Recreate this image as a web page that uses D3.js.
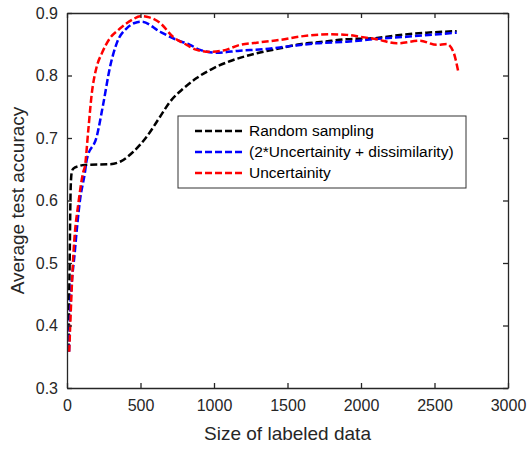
<!DOCTYPE html>
<html>
<head>
<meta charset="utf-8">
<script src="https://cdn.jsdelivr.net/npm/d3@7"></script>
<style>
  body { margin: 0; background: #fff; }
  svg { font-family: "Liberation Sans", Arial, sans-serif; }
  .axis path, .axis line { stroke: #262626; stroke-width: 1.3; }
  .axis text { fill: #262626; font-size: 16px; }
</style>
</head>
<body>
<svg class="chart"></svg>
<script>
// series: [size of labeled data, average test accuracy]
var randomSampling = [[10,0.36],[18,0.50],[25,0.62],[32,0.645],[43,0.651],[80,0.655],[122,0.657],[293,0.658],[361,0.662],[451,0.678],[542,0.702],[633,0.734],[701,0.758],[791,0.779],[882,0.796],[995,0.8115],[1131,0.8248],[1290,0.8355],[1449,0.8435],[1585,0.850],[1744,0.854],[1903,0.858],[2084,0.8595],[2265,0.8648],[2447,0.8685],[2651,0.871]];
var uncDissim = [[14,0.358],[20,0.414],[54,0.52],[88,0.60],[122,0.645],[134,0.665],[202,0.702],[247,0.755],[293,0.814],[338,0.8515],[406,0.8755],[460,0.884],[508,0.886],[633,0.870],[746,0.857],[837,0.849],[905,0.841],[1018,0.8365],[1177,0.8397],[1336,0.842],[1517,0.847],[1698,0.8515],[1903,0.854],[2084,0.858],[2311,0.862],[2651,0.8685]];
var uncertainty = [[15,0.358],[45,0.52],[80,0.60],[110,0.645],[122,0.655],[145,0.713],[168,0.77],[202,0.814],[236,0.835],[293,0.86],[350,0.873],[406,0.8835],[450,0.89],[497,0.895],[560,0.893],[633,0.884],[721,0.862],[814,0.849],[882,0.841],[973,0.838],[1063,0.840],[1177,0.849],[1290,0.8525],[1449,0.857],[1607,0.863],[1789,0.866],[1903,0.865],[1993,0.862],[2107,0.858],[2243,0.8515],[2401,0.8557],[2515,0.849],[2583,0.8504],[2628,0.838],[2662,0.806]];

var seriesNames = ['Random sampling', '(2*Uncertainity + dissimilarity)', 'Uncertainity'];
var seriesColors = ['#000000', '#0000ff', '#ff0000'];
var xTicks = [0, 500, 1000, 1500, 2000, 2500, 3000];
var yTicks = [0.3, 0.4, 0.5, 0.6, 0.7, 0.8, 0.9];

var margin = { top: 13, right: 20, bottom: 62, left: 67 };
var width = 528 - margin.left - margin.right;
var height = 450 - margin.top - margin.bottom;

var x = d3.scaleLinear().domain([0, 3000]).range([0, width]);
var y = d3.scaleLinear().domain([0.3, 0.9]).range([height, 0]);

var svg = d3.select('.chart')
  .attr('width', 528)
  .attr('height', 450);

var chart = svg.append('g')
  .attr('transform', 'translate(' + margin.left + ',' + margin.top + ')');

// series lines
var line = d3.line()
  .x(d => x(d[0]))
  .y(d => y(d[1]))
  .curve(d3.curveMonotoneX);

[randomSampling, uncDissim, uncertainty].forEach(function (s, i) {
  chart.append('path')
    .datum(s)
    .attr('fill', 'none')
    .attr('stroke', seriesColors[i])
    .attr('stroke-width', 2.5)
    .attr('stroke-dasharray', '7,3')
    .attr('d', line);
});

// axes (box with inward ticks)
chart.append('g')
  .attr('class', 'x axis')
  .attr('transform', 'translate(0,' + height + ')')
  .call(d3.axisBottom(x).tickValues(xTicks).tickSizeInner(-5).tickSizeOuter(0).tickPadding(12).tickFormat(d3.format('d')));

chart.append('g')
  .attr('class', 'x axis')
  .call(d3.axisTop(x).tickValues(xTicks).tickSizeInner(-5).tickSizeOuter(0).tickFormat(''));

chart.append('g')
  .attr('class', 'y axis')
  .call(d3.axisLeft(y).tickValues(yTicks).tickSizeInner(-5).tickSizeOuter(0).tickPadding(9).tickFormat(d3.format('.1f')));

chart.append('g')
  .attr('class', 'y axis')
  .attr('transform', 'translate(' + width + ',0)')
  .call(d3.axisRight(y).tickValues(yTicks).tickSizeInner(-5).tickSizeOuter(0).tickFormat(''));

// axis labels
svg.append('text')
  .attr('x', margin.left + width / 2)
  .attr('y', 440)
  .attr('text-anchor', 'middle')
  .attr('fill', '#262626')
  .style('font-size', '19px')
  .text('Size of labeled data');

svg.append('text')
  .attr('transform', 'translate(24,' + (margin.top + height / 2) + ') rotate(-90)')
  .attr('text-anchor', 'middle')
  .attr('fill', '#262626')
  .style('font-size', '19px')
  .text('Average test accuracy');

// legend
var legend = svg.append('g').attr('transform', 'translate(178,116)');

legend.append('rect')
  .attr('width', 288)
  .attr('height', 72)
  .attr('fill', '#fff')
  .attr('stroke', '#333')
  .attr('stroke-width', 1);

seriesNames.forEach(function (name, i) {
  var ly = 15 + i * 21;
  legend.append('line')
    .attr('x1', 17).attr('x2', 64)
    .attr('y1', ly).attr('y2', ly)
    .attr('stroke', seriesColors[i])
    .attr('stroke-width', 2.5)
    .attr('stroke-dasharray', '7,3');
  legend.append('text')
    .attr('x', 71)
    .attr('y', ly)
    .attr('dy', '0.35em')
    .attr('fill', '#000')
    .style('font-size', '15.5px')
    .text(name);
});
</script>
</body>
</html>
